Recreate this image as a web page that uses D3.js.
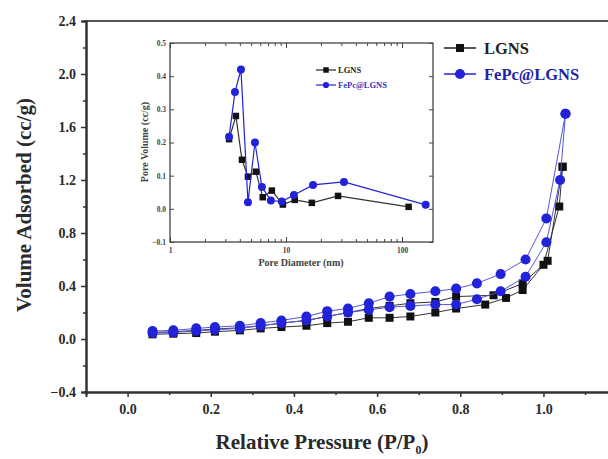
<!DOCTYPE html>
<html>
<head>
<meta charset="utf-8">
<script src="https://d3js.org/d3.v7.min.js"></script>
<style>
body{margin:0;background:#fff}
svg{display:block;font-family:'Liberation Serif','DejaVu Serif',serif;font-weight:bold}
</style>
</head>
<body>
<div id="chart"></div>
<script>
// main isotherm, relative pressure vs volume adsorbed
var lgnsAdsP = [0.06,0.11,0.165,0.21,0.27,0.32,0.37,0.43,0.48,0.53,0.58,0.63,0.68,0.74,0.79,0.86,0.91,0.95,1.0,1.038,1.046];
var lgnsAdsV = [0.035,0.04,0.045,0.055,0.065,0.08,0.09,0.10,0.12,0.13,0.16,0.16,0.17,0.20,0.23,0.26,0.31,0.37,0.56,1.0,1.30];
var lgnsDesP = [1.046,1.01,0.95,0.88,0.79,0.74,0.68,0.63,0.58,0.53,0.48,0.43,0.37,0.32,0.27,0.21,0.165,0.11,0.06];
var lgnsDesV = [1.30,0.59,0.42,0.33,0.32,0.28,0.27,0.25,0.23,0.20,0.17,0.14,0.12,0.10,0.085,0.075,0.065,0.055,0.05];
var fepcAdsP = [0.06,0.11,0.165,0.21,0.27,0.32,0.37,0.43,0.48,0.53,0.58,0.63,0.68,0.74,0.79,0.84,0.897,0.957,1.007,1.04,1.053];
var fepcAdsV = [0.045,0.05,0.06,0.07,0.08,0.10,0.12,0.14,0.17,0.20,0.22,0.24,0.25,0.26,0.26,0.30,0.36,0.47,0.73,1.20,1.70];
var fepcDesP = [1.053,1.007,0.957,0.897,0.84,0.79,0.74,0.68,0.63,0.58,0.53,0.48,0.43,0.37,0.32,0.27,0.21,0.165,0.11,0.06];
var fepcDesV = [1.70,0.91,0.60,0.49,0.42,0.38,0.36,0.34,0.32,0.27,0.23,0.21,0.17,0.14,0.12,0.10,0.09,0.08,0.065,0.06];

// inset pore size distribution
var lgnsPoreD = [3.23,3.70,4.17,4.70,5.5,6.3,7.55,9.4,11.9,16.7,28.1,114];
var lgnsPoreV = [0.21,0.28,0.148,0.097,0.112,0.035,0.055,0.013,0.027,0.018,0.039,0.006];
var fepcPoreD = [3.23,3.63,4.09,4.70,5.4,6.2,7.4,9.2,11.7,17.1,31.6,160];
var fepcPoreV = [0.217,0.352,0.42,0.02,0.20,0.066,0.025,0.022,0.042,0.072,0.081,0.012];

var mainXTicks = [0.0,0.2,0.4,0.6,0.8,1.0];
var mainYTicks = [-0.4,0.0,0.4,0.8,1.2,1.6,2.0,2.4];
var insetYTicks = [-0.1,0.0,0.1,0.2,0.3,0.4,0.5];
var insetXTicks = [1,10,100];
var seriesNames = ["LGNS","FePc@LGNS"];

var black = "#111", blue = "#2222d8", blueLine = "#5555dd";

var W = 608, H = 459;
var svg = d3.select("#chart").append("svg").attr("width", W).attr("height", H);

var x = d3.scaleLinear().domain([-0.1, 1.16]).range([86, 610]);
var y = d3.scaleLinear().domain([-0.4, 2.4]).range([392, 21]);

// frame
svg.append("line").attr("x1", 86).attr("x2", 608).attr("y1", 21).attr("y2", 21)
  .attr("stroke", "#555").attr("stroke-width", 2);

svg.append("g").attr("transform", "translate(0,392)")
  .call(d3.axisBottom(x).tickValues(mainXTicks).tickFormat(d3.format(".1f")).tickSize(5).tickPadding(7));
svg.append("g").attr("transform", "translate(0,392)")
  .call(d3.axisBottom(x).tickValues([0.1,0.3,0.5,0.7,0.9,1.1]).tickFormat("").tickSize(3));
svg.append("g").attr("transform", "translate(86,0)")
  .call(d3.axisLeft(y).tickValues(mainYTicks).tickFormat(d3.format(".1f")).tickSize(5).tickPadding(5));
svg.append("g").attr("transform", "translate(86,0)")
  .call(d3.axisLeft(y).tickValues([-0.2,0.2,0.6,1.0,1.4,1.8,2.2]).tickFormat("").tickSize(3));
svg.selectAll(".domain").attr("stroke", "#333").attr("stroke-width", 2);
svg.selectAll(".tick line").attr("stroke", "#333").attr("stroke-width", 1.5);
svg.selectAll(".tick text").attr("font-size", 14).attr("font-family", "'Liberation Serif',serif")
  .attr("font-weight", "bold").attr("fill", "#2a2a2a");

// axis titles
svg.append("text").attr("x", 322).attr("y", 449).attr("text-anchor", "middle")
  .attr("font-size", 21).attr("fill", "#2a2a2a")
  .html('Relative Pressure (P/P<tspan font-size="12" dy="5">0</tspan><tspan dy="-5">)</tspan>');
svg.append("text").attr("transform", "translate(31,205) rotate(-90)").attr("text-anchor", "middle")
  .attr("font-size", 21).attr("fill", "#2a2a2a").text("Volume Adsorbed (cc/g)");

function zip(ps, vs) { return ps.map(function (p, i) { return [p, vs[i]]; }); }

var lineMain = d3.line().x(function (d) { return x(d[0]); }).y(function (d) { return y(d[1]); });

function drawIso(ads, des, color, lcolor, shape) {
  var pts = ads.concat(des);
  svg.append("path").attr("d", lineMain(ads)).attr("fill", "none").attr("stroke", lcolor).attr("stroke-width", 1);
  svg.append("path").attr("d", lineMain(des)).attr("fill", "none").attr("stroke", lcolor).attr("stroke-width", 1);
  svg.append("g").selectAll("path").data(pts).join("path")
    .attr("transform", function (d) { return "translate(" + x(d[0]) + "," + y(d[1]) + ")"; })
    .attr("d", d3.symbol().type(shape).size(shape === d3.symbolSquare ? 64 : 80))
    .attr("fill", color);
}
drawIso(zip(lgnsAdsP, lgnsAdsV), zip(lgnsDesP, lgnsDesV), black, "#333", d3.symbolSquare);
drawIso(zip(fepcAdsP, fepcAdsV), zip(fepcDesP, fepcDesV), blue, blueLine, d3.symbolCircle);

// main legend
var leg = svg.append("g");
[[black, "#222", d3.symbolSquare], [blue, blue, d3.symbolCircle]].forEach(function (s, i) {
  var yy = 48 + i * 26;
  leg.append("line").attr("x1", 444).attr("x2", 476).attr("y1", yy).attr("y2", yy).attr("stroke", s[1]).attr("stroke-width", 1.5);
  leg.append("path").attr("transform", "translate(460," + yy + ")")
    .attr("d", d3.symbol().type(s[2]).size(s[2] === d3.symbolSquare ? 64 : 80)).attr("fill", s[0]);
  leg.append("text").attr("x", 484).attr("y", yy + 6).attr("font-size", 16.5).attr("fill", i ? "#2222aa" : "#222")
    .text(seriesNames[i]);
});

// inset
var ix = d3.scaleLog().domain([1, 185]).range([170, 433]);
var iy = d3.scaleLinear().domain([-0.1, 0.5]).range([242, 43]);
var ins = svg.append("g");
ins.append("rect").attr("x", 170).attr("y", 43).attr("width", 263).attr("height", 199)
  .attr("fill", "#fff").attr("stroke", "#444").attr("stroke-width", 1.3);

var logMinor = [];
[1, 10, 100].forEach(function (b) { for (var k = 2; k <= 9; k++) if (b * k < 185) logMinor.push(b * k); });

ins.append("g").attr("transform", "translate(0,242)")
  .call(d3.axisBottom(ix).tickValues(insetXTicks).tickFormat(d3.format("d")).tickSizeInner(-5).tickSizeOuter(0).tickPadding(6));
ins.append("g").attr("transform", "translate(0,242)")
  .call(d3.axisBottom(ix).tickValues(logMinor).tickFormat("").tickSizeInner(-3).tickSizeOuter(0));
ins.append("g").attr("transform", "translate(0,43)")
  .call(d3.axisTop(ix).tickValues(insetXTicks).tickFormat("").tickSizeInner(-5).tickSizeOuter(0));
ins.append("g").attr("transform", "translate(0,43)")
  .call(d3.axisTop(ix).tickValues(logMinor).tickFormat("").tickSizeInner(-3).tickSizeOuter(0));
ins.append("g").attr("transform", "translate(170,0)")
  .call(d3.axisLeft(iy).tickValues(insetYTicks).tickFormat(d3.format(".1f")).tickSizeInner(-4).tickSizeOuter(0).tickPadding(4));
ins.append("g").attr("transform", "translate(433,0)")
  .call(d3.axisRight(iy).tickValues(insetYTicks).tickFormat("").tickSizeInner(-4).tickSizeOuter(0));
ins.selectAll(".domain").remove();
ins.selectAll(".tick line").attr("stroke", "#444");
ins.selectAll(".tick text").attr("font-size", 7.5).attr("font-family", "'Liberation Serif',serif")
  .attr("font-weight", "bold").attr("fill", "#444");

ins.append("text").attr("x", 301).attr("y", 266).attr("text-anchor", "middle").attr("font-size", 10)
  .attr("fill", "#444").text("Pore Diameter (nm)");
ins.append("text").attr("transform", "translate(148,142) rotate(-90)").attr("text-anchor", "middle")
  .attr("font-size", 10).attr("fill", "#444").text("Pore Volume (cc/g)");

var lineIn = d3.line().x(function (d) { return ix(d[0]); }).y(function (d) { return iy(d[1]); });
function drawPore(pts, color, lcolor, shape) {
  ins.append("path").attr("d", lineIn(pts)).attr("fill", "none").attr("stroke", lcolor).attr("stroke-width", 1.2);
  ins.append("g").selectAll("path").data(pts).join("path")
    .attr("transform", function (d) { return "translate(" + ix(d[0]) + "," + iy(d[1]) + ")"; })
    .attr("d", d3.symbol().type(shape).size(shape === d3.symbolSquare ? 42 : 50))
    .attr("fill", color);
}
drawPore(zip(lgnsPoreD, lgnsPoreV), black, "#333", d3.symbolSquare);
drawPore(zip(fepcPoreD, fepcPoreV), blue, blue, d3.symbolCircle);

[[black, "#222", d3.symbolSquare], [blue, blue, d3.symbolCircle]].forEach(function (s, i) {
  var yy = 70 + i * 15;
  ins.append("line").attr("x1", 316).attr("x2", 336).attr("y1", yy).attr("y2", yy).attr("stroke", s[1]).attr("stroke-width", 1.2);
  ins.append("path").attr("transform", "translate(326," + yy + ")")
    .attr("d", d3.symbol().type(s[2]).size(30)).attr("fill", s[0]);
  ins.append("text").attr("x", 338).attr("y", yy + 3).attr("font-size", 8.5).attr("fill", i ? "#3333bb" : "#222")
    .text(seriesNames[i]);
});
</script>
</body>
</html>
